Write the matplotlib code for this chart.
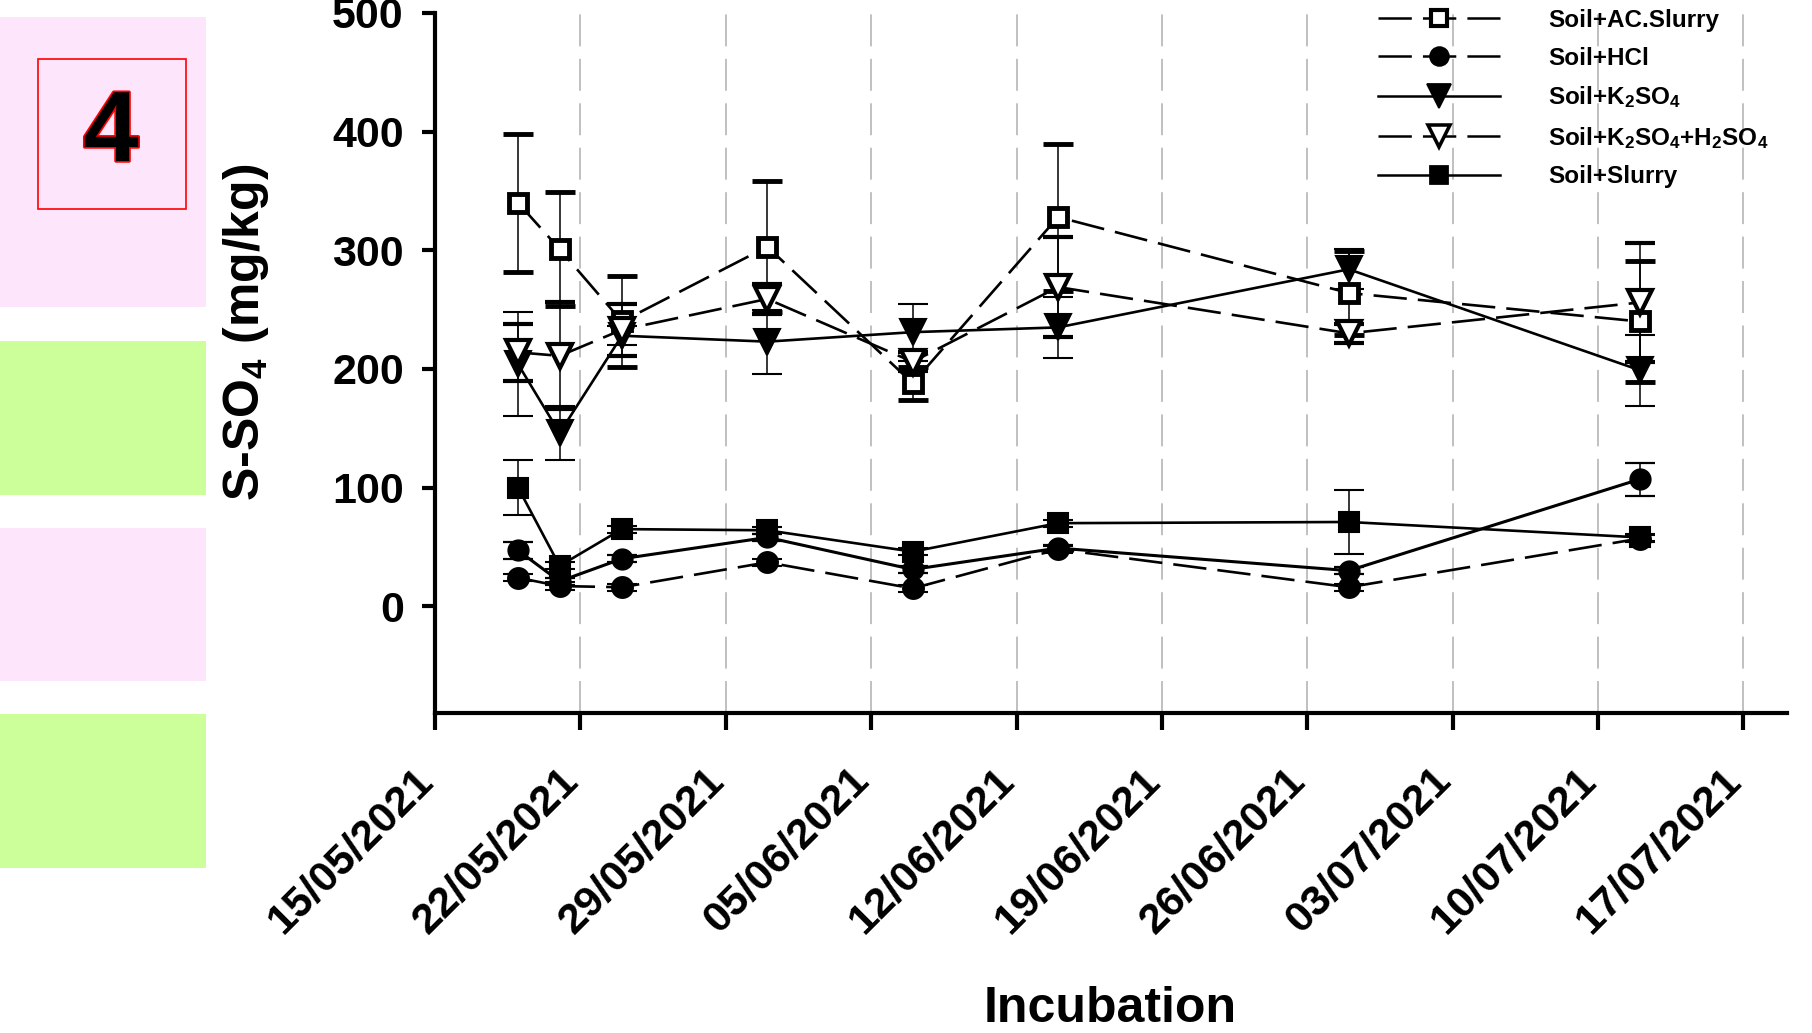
import matplotlib
matplotlib.use('Agg')
import matplotlib.pyplot as plt
import matplotlib.dates as mdates
from matplotlib.patches import Rectangle
from matplotlib.lines import Line2D
from matplotlib import patheffects
import pandas as pd

W, H = 1812, 1033

plt.rcParams['font.family'] = ['Liberation Sans', 'DejaVu Sans']
plt.rcParams['mathtext.fontset'] = 'custom'
plt.rcParams['mathtext.rm'] = 'Liberation Sans:bold'
plt.rcParams['mathtext.bf'] = 'Liberation Sans:bold'
plt.rcParams['mathtext.it'] = 'Liberation Sans:bold:italic'
plt.rcParams['mathtext.default'] = 'rm'
plt.rcParams['lines.scale_dashes'] = False

# sampling dates
dates = pd.to_datetime(['2021-05-19', '2021-05-21', '2021-05-24', '2021-05-31',
                        '2021-06-07', '2021-06-14', '2021-06-28', '2021-07-12'])

# S-SO4 (mg/kg), means and error bars
ac_slurry = [340, 301, 240, 303, 188, 328, 264, 240]
ac_slurry_err = [58, 48, 38, 55, 14, 62, 35, 51]

hcl = [24, 17, 16, 37, 15, 48, 16, 57]
hcl_err = [3, 3, 3, 3, 3, 3, 3, 3]

k2so4 = [204, 146, 228, 223, 231, 235, 284, 199]
k2so4_err = [44, 23, 8, 27, 24, 26, 17, 30]

k2so4_h2so4 = [214, 211, 233, 259, 206, 269, 230, 256]
k2so4_h2so4_err = [24, 45, 22, 13, 8, 42, 8, 50]

slurry = [100, 34, 65, 64, 46, 70, 71, 58]
slurry_err = [23, 3, 3, 3, 3, 3, 27, 3]

# extra series drawn in the figure but not in the legend
other = [47, 21, 40, 58, 31, 49, 30, 107]
other_err = [7, 3, 3, 3, 3, 3, 3, 14]

tick_dates = pd.to_datetime(['2021-05-15', '2021-05-22', '2021-05-29', '2021-06-05',
                             '2021-06-12', '2021-06-19', '2021-06-26', '2021-07-03',
                             '2021-07-10', '2021-07-17'])
tick_labels = [d.strftime('%d/%m/%Y') for d in tick_dates]
y_ticks = [0, 100, 200, 300, 400, 500]

DASH = (0, (24, 8))

fig = plt.figure(figsize=(W / 100, H / 100), dpi=100)

# coloured blocks on the left
def px_rect(x0, y0, x1, y1, **kw):
  return Rectangle((x0 / W, 1 - y1 / H), (x1 - x0) / W, (y1 - y0) / H,
                   transform=fig.transFigure, **kw)

fig.add_artist(px_rect(0, 17, 206, 307, color='#fde6fb', lw=0))
fig.add_artist(px_rect(0, 341, 206, 495, color='#ccff99', lw=0))
fig.add_artist(px_rect(0, 528, 206, 681, color='#fde6fb', lw=0))
fig.add_artist(px_rect(0, 714, 206, 868, color='#ccff99', lw=0))
fig.add_artist(px_rect(38, 59, 186, 209, fill=False, edgecolor='red', lw=1.2))
fig.text(111 / W, 1 - 135 / H, '4', fontsize=72, fontweight='bold', ha='center', va='center',
         path_effects=[patheffects.withStroke(linewidth=2.5, foreground='red')])

ax = fig.add_axes([435 / W, 1 - 713 / H, (1787 - 435) / W, (713 - 13) / H])

series = [
  (ac_slurry, ac_slurry_err, 's', 'white', DASH, 13, 3.5, 'Soil+AC.Slurry'),
  (hcl, hcl_err, 'o', 'black', DASH, 15, 1.5, 'Soil+HCl'),
  (k2so4, k2so4_err, 'v', 'black', '-', 19, 1.5, 'Soil+K$_2$SO$_4$'),
  (k2so4_h2so4, k2so4_h2so4_err, 'v', 'white', DASH, 17, 3.0, 'Soil+K$_2$SO$_4$+H$_2$SO$_4$'),
  (slurry, slurry_err, 's', 'black', '-', 15, 1.5, 'Soil+Slurry'),
]

handles = []
labels = []
for vals, err, mk, fc, ls, ms, mew, lab in series:
  ax.errorbar(dates, vals, yerr=err, color='black', lw=1.9, linestyle=ls, marker=mk,
              ms=ms, mfc=fc, mec='black', mew=mew, ecolor='black', elinewidth=1.1,
              capsize=11, capthick=1.6, zorder=3)
  handles.append(Line2D([], [], color='black', lw=1.8, linestyle=ls, marker=mk,
                        ms=ms * 0.9, mfc=fc, mec='black', mew=mew * 0.85))
  labels.append(lab)

ax.errorbar(dates, other, yerr=other_err, color='black', lw=2.2, linestyle='-', marker='o',
            ms=15, mfc='black', mec='black', ecolor='black', elinewidth=1.1,
            capsize=11, capthick=1.6, zorder=3)

ax.set_ylim(-90, 500)
ax.set_xlim(mdates.date2num(tick_dates[0]), mdates.date2num(tick_dates[-1]) + 2.1)

ax.set_yticks(y_ticks)
ax.set_yticklabels([str(v) for v in y_ticks], fontsize=31, fontweight='bold')
ax.set_xticks(tick_dates)
ax.set_xticklabels(tick_labels, fontsize=31, fontweight='bold', rotation=45,
                   ha='right', va='baseline', rotation_mode='anchor')

ax.tick_params(axis='y', length=9.5, width=3, pad=13, direction='out')
ax.tick_params(axis='x', length=12, width=3, pad=38, direction='out')

for s in ['top', 'right']:
  ax.spines[s].set_visible(False)
for s in ['left', 'bottom']:
  ax.spines[s].set_linewidth(3)

ax.set_axisbelow(True)
ax.xaxis.grid(True, color='#c0c0c0', linestyle=(0, (23, 9)), lw=1.4)

fig.text(246 / W, 1 - 332 / H, 'S-SO$_4$ (mg/kg)', rotation=90, ha='center', va='center',
         fontsize=36, fontweight='bold')
fig.text(1110 / W, 1 - 1022 / H, 'Incubation', ha='center', va='baseline',
         fontsize=36, fontweight='bold')

fig.legend(handles, labels, loc='upper left', bbox_to_anchor=(1378 / W, 1 - 9 / H),
           frameon=False, prop={'size': 17.5, 'weight': 'bold'}, handlelength=5.0,
           handletextpad=2.0, labelspacing=0.6, borderpad=0, borderaxespad=0,
           numpoints=1)

fig.savefig('out.png', dpi=100)
